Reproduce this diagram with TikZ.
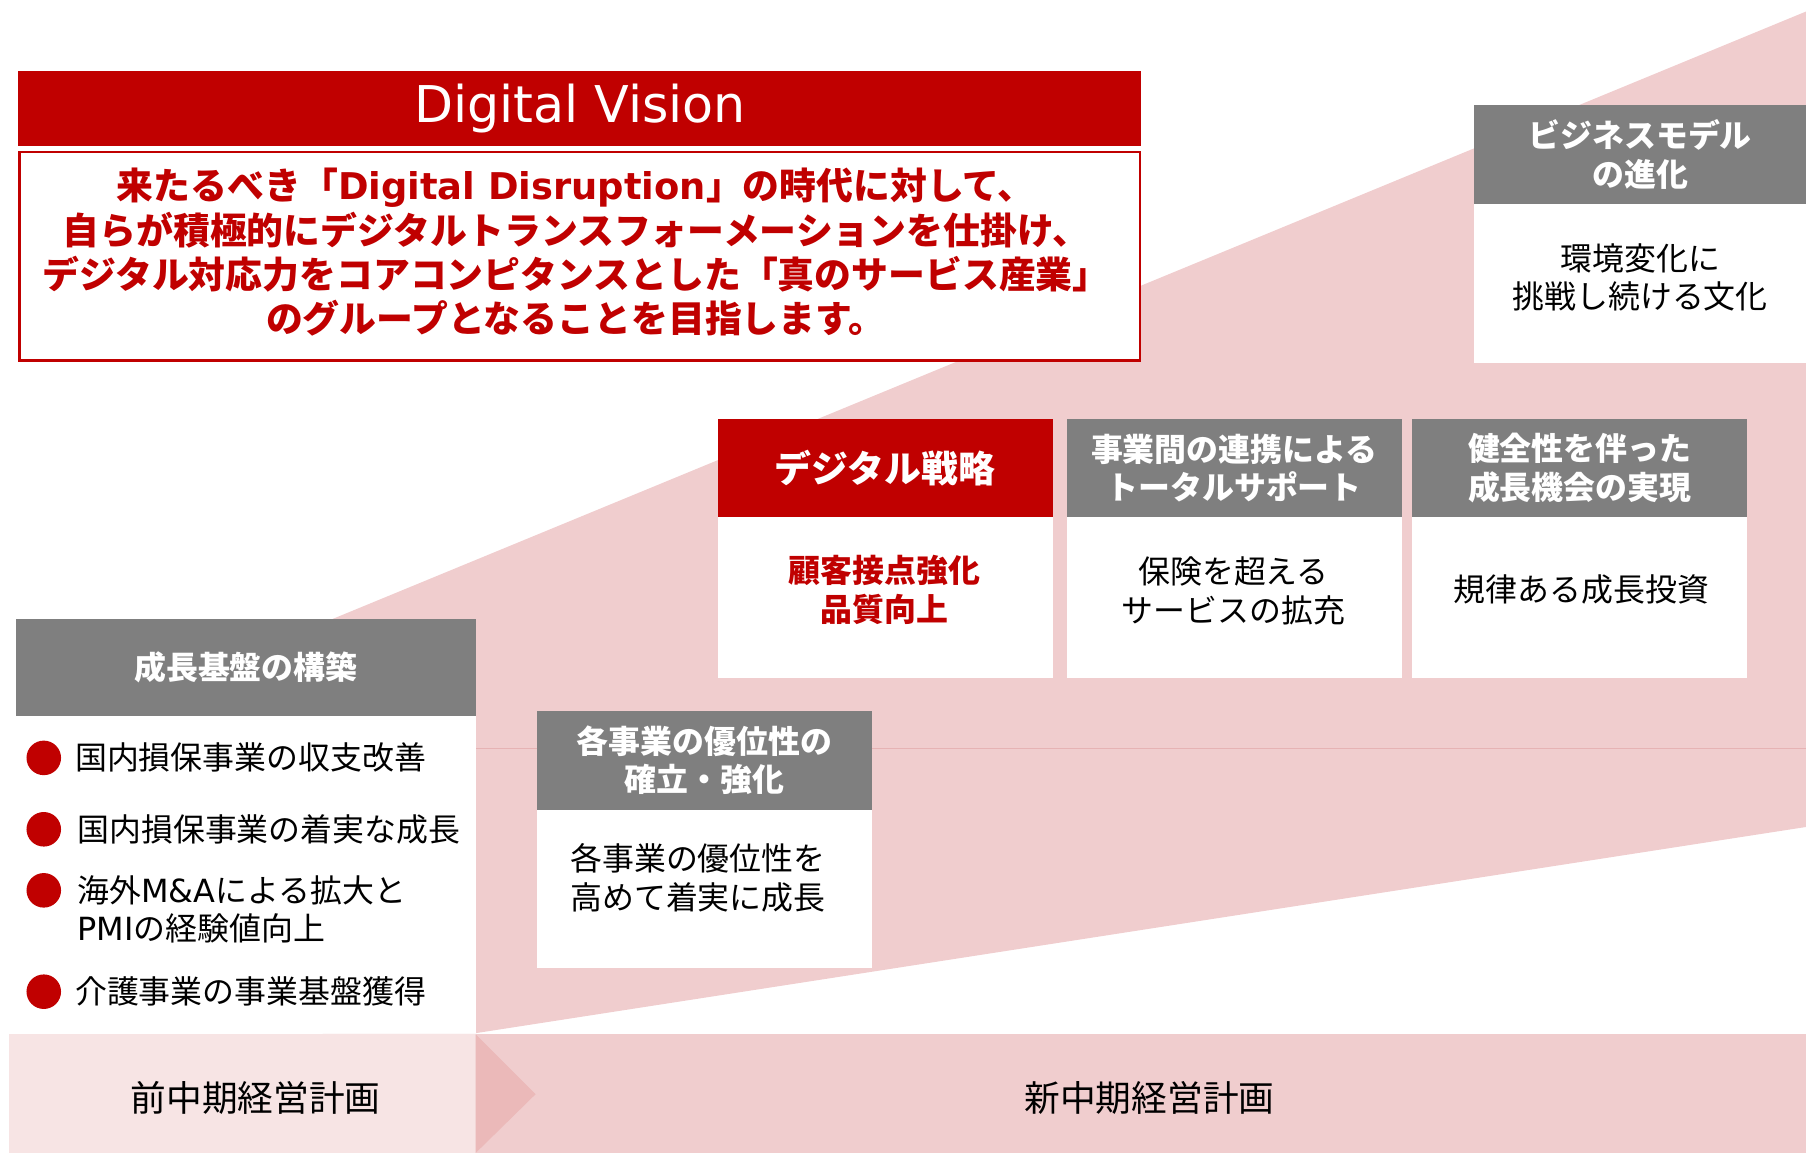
\documentclass[tikz,border=0pt]{standalone}
\usepackage{fontspec}
\setmainfont{Noto Sans CJK JP}
\newfontfamily\lat{DejaVu Sans}
\usetikzlibrary{positioning}
\definecolor{dvred}{HTML}{C00000}
\definecolor{hdgray}{HTML}{7F7F7F}
\definecolor{bandpink}{HTML}{F0CDCE}
\definecolor{lightpink}{HTML}{F7E4E4}
\definecolor{arrowpink}{HTML}{EBB9B9}
\definecolor{linepink}{HTML}{E6B3B4}
\newcommand{\txtsize}{\fontsize{27.7}{33.5}\selectfont}
\newcommand{\redsize}{\fontsize{32}{38.5}\selectfont}
\newcommand{\bigsize}{\fontsize{32}{38}\selectfont}
\newcommand{\plansize}{\fontsize{31}{36}\selectfont}
\newcommand{\titlesize}{\fontsize{44}{50}\selectfont}

\begin{document}
\begin{tikzpicture}[x=1pt,y=-1pt,
head/.style={fill=hdgray,text=white,font=\txtsize\bfseries,align=center,inner sep=0pt,outer sep=0pt,anchor=north west,minimum width=291pt,minimum height=85pt},
redhead/.style={head,fill=dvred},
body/.style={fill=white,inner sep=0pt,outer sep=0pt,minimum width=291pt,minimum height=140pt},
txt/.style={font=\txtsize,align=center,inner sep=0pt},
dot/.style={circle,fill=dvred,minimum size=30pt,inner sep=0pt}]

\useasboundingbox(0,0)rectangle(1568,1001);

\fill[bandpink](280,541)--(1568,10)--(1568,718)--(413,897)--(280,897)--cycle;
\draw[linepink,line width=1pt](413,650)--(1568,650);
\fill[lightpink](8,898)rectangle(413,1001);
\fill[bandpink](413,898)rectangle(1568,1001);
\fill[arrowpink](413,898)--(465,950)--(413,1001)--cycle;

\node[redhead,minimum width=975pt,minimum height=65pt,font=\lat\titlesize](vis) at (16,62){Digital Vision};
\node[body,draw=dvred,line width=2pt,anchor=north west,minimum width=973pt,minimum height=181pt](visb) at (17,132){};
\node[txt,font=\redsize\bfseries,text=dvred](vist) at (500,219){来たるべき「{\lat Digital Disruption}」の時代に対して、\\自らが積極的にデジタルトランスフォーメーションを仕掛け、\\デジタル対応力をコアコンピタンスとした「真のサービス産業」\\のグループとなることを目指します。};

\node[head,minimum width=288pt,minimum height=86pt](evo) at (1280,91){ビジネスモデル\\の進化};
\node[body,minimum width=288pt,minimum height=138pt,below=0pt of evo](evob){};
\node[txt](evot) at (1424,241){環境変化に\\挑戦し続ける文化};

\node[redhead,font=\bigsize\bfseries](dig) at (623,364){デジタル戦略};
\node[body,below=0pt of dig](digb){};
\node[txt,font=\txtsize\bfseries,text=dvred](digt) at (768,512){顧客接点強化\\品質向上};
\node[head,right=12pt of dig](syn){事業間の連携による\\トータルサポート};
\node[body,below=0pt of syn](synb){};
\node[txt](synt) at (1071,513){保険を超える\\サービスの拡充};
\node[head,right=9pt of syn](gro){健全性を伴った\\成長機会の実現};
\node[body,below=0pt of gro](grob){};
\node[txt](grot) at (1373,512){規律ある成長投資};

\node[head,minimum height=86pt](adv) at (466,617){各事業の優位性の\\確立・強化};
\node[body,minimum height=137pt,below=0pt of adv](advb){};
\node[txt,align=left,anchor=west](advt) at (495,762){各事業の優位性を\\高めて着実に成長};

\node[head,minimum width=399pt](base) at (14,537){成長基盤の構築};
\node[body,minimum width=399pt,minimum height=275pt,below=0pt of base](baseb){};
\node[dot](d1) at (38,658){};
\node[txt,anchor=west](i1) at (65,658){国内損保事業の収支改善};
\node[dot](d2) at (38,720){};
\node[txt,anchor=west](i2) at (67,720){国内損保事業の着実な成長};
\node[dot](d3) at (38,773){};
\node[txt,anchor=west,align=left](i3) at (67,789.5){海外{\lat M\&A}による拡大と\\{\lat PMI}の経験値向上};
\node[dot](d4) at (38,861){};
\node[txt,anchor=west](i4) at (65,861){介護事業の事業基盤獲得};

\node[txt,font=\plansize](prev) at (222,953){前中期経営計画};
\node[txt,font=\plansize](next) at (998,953){新中期経営計画};

\end{tikzpicture}
\end{document}
